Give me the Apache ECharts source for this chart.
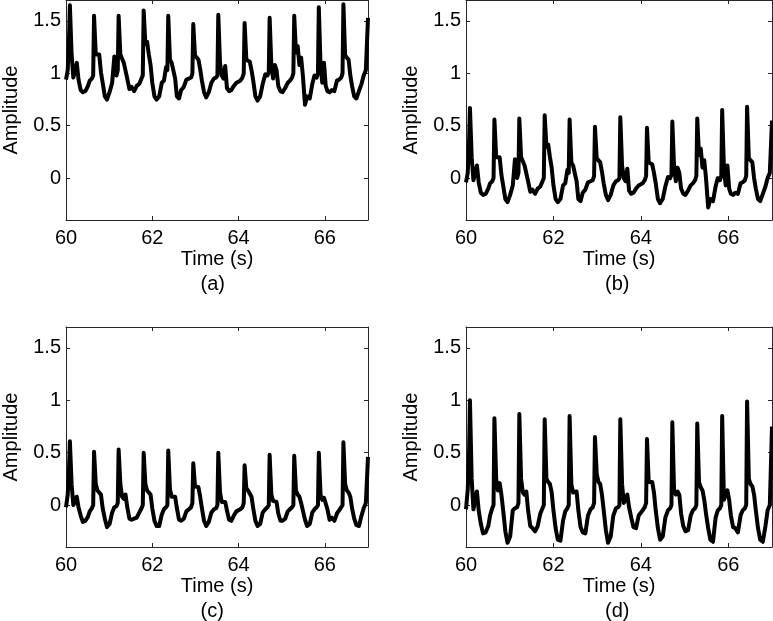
<!DOCTYPE html>
<html>
<head>
<meta charset="utf-8">
<script src="https://cdn.jsdelivr.net/npm/echarts@6/dist/echarts.min.js"></script>
<style>
html,body{margin:0;padding:0;background:#fff;}
#chart{width:773px;height:621px;}
</style>
</head>
<body>
<div id="chart"></div>
<script>
// Time samples (s)
const timeS = [
60.00,60.04,60.07,60.09,60.13,60.17,60.21,60.25,60.29,60.34,60.39,60.45,60.51,
60.55,60.60,60.63,60.65,60.69,60.73,60.77,60.81,60.85,60.90,60.95,61.01,61.07,
61.12,61.17,61.20,61.22,61.26,61.30,61.34,61.38,61.42,61.47,61.52,61.58,61.64,
61.70,61.75,61.78,61.80,61.84,61.88,61.92,61.96,62.00,62.05,62.10,62.16,62.22,
62.27,62.32,62.35,62.37,62.41,62.45,62.49,62.53,62.57,62.62,62.67,62.73,62.79,
62.85,62.90,62.93,62.95,62.99,63.03,63.07,63.11,63.15,63.20,63.25,63.31,63.37,
63.43,63.48,63.51,63.53,63.57,63.61,63.65,63.69,63.73,63.78,63.83,63.89,63.95,
64.04,64.09,64.12,64.14,64.18,64.22,64.26,64.30,64.34,64.39,64.44,64.50,64.56,
64.62,64.67,64.70,64.72,64.76,64.80,64.84,64.88,64.92,64.97,65.02,65.08,65.14,
65.19,65.24,65.27,65.29,65.33,65.37,65.41,65.45,65.49,65.54,65.59,65.65,65.71,
65.76,65.81,65.84,65.86,65.90,65.94,65.98,66.02,66.06,66.11,66.16,66.22,66.28,
66.33,66.38,66.41,66.43,66.47,66.51,66.55,66.59,66.63,66.68,66.73,66.79,66.85,
66.90,66.95,67.00
];
// Panel (a) amplitude
const ampA = [
0.94,1.03,1.33,1.65,1.18,0.96,1.03,1.10,0.94,0.84,0.82,0.83,0.88,
0.93,0.95,0.98,1.55,1.18,1.18,1.18,1.01,0.91,0.78,0.75,0.82,0.91,
1.16,0.98,1.03,1.55,1.18,1.14,1.10,1.11,0.95,0.85,0.87,0.83,0.88,
0.90,0.95,0.98,1.60,1.28,1.30,1.18,1.08,0.91,0.78,0.75,0.78,0.91,
0.93,1.06,1.03,1.55,1.13,1.10,1.09,0.95,0.78,0.76,0.84,0.87,0.94,
0.95,0.96,1.00,1.47,1.17,1.17,1.13,1.04,0.93,0.82,0.77,0.82,0.91,
0.95,0.96,0.98,1.56,1.10,0.98,0.95,1.07,0.86,0.83,0.84,0.88,0.91,
0.93,0.96,1.00,1.48,1.13,1.14,1.11,1.03,0.93,0.78,0.74,0.78,0.90,
0.99,0.98,1.01,1.53,1.08,0.95,1.08,1.03,0.88,0.83,0.82,0.86,0.91,
0.93,0.96,1.00,1.55,1.20,1.26,1.08,1.15,0.98,0.70,0.78,0.76,0.90,
0.98,0.96,1.00,1.63,1.08,0.91,1.10,0.88,0.83,0.82,0.84,0.83,0.93,
0.94,0.96,1.00,1.66,1.17,1.16,1.13,0.98,0.88,0.78,0.76,0.83,0.90,
0.98,1.03,1.53
];
// Panel (b) amplitude
const ampB = [
-0.04,0.05,0.35,0.67,0.20,-0.02,0.05,0.12,-0.04,-0.14,-0.16,-0.15,-0.10,
-0.05,-0.03,0.00,0.56,0.20,0.20,0.20,0.03,-0.07,-0.20,-0.23,-0.16,-0.07,
0.18,0.00,0.05,0.57,0.20,0.16,0.12,0.13,-0.03,-0.13,-0.11,-0.15,-0.10,
-0.08,-0.03,0.00,0.60,0.30,0.32,0.20,0.10,-0.07,-0.20,-0.23,-0.20,-0.07,
-0.05,0.08,0.05,0.56,0.15,0.12,0.11,-0.03,-0.20,-0.22,-0.14,-0.11,-0.04,
-0.03,-0.02,0.02,0.49,0.19,0.19,0.15,0.06,-0.05,-0.16,-0.21,-0.16,-0.07,
-0.03,-0.02,0.00,0.58,0.12,0.00,-0.03,0.09,-0.12,-0.15,-0.14,-0.10,-0.07,
-0.05,-0.02,0.02,0.48,0.15,0.16,0.13,0.05,-0.05,-0.20,-0.24,-0.20,-0.08,
0.01,0.00,0.03,0.54,0.10,-0.03,0.10,0.05,-0.10,-0.15,-0.16,-0.12,-0.07,
-0.05,-0.02,0.02,0.57,0.22,0.28,0.10,0.17,0.00,-0.28,-0.20,-0.22,-0.08,
0.00,-0.02,0.02,0.65,0.10,-0.07,0.12,-0.10,-0.15,-0.16,-0.14,-0.15,-0.05,
-0.04,-0.02,0.02,0.68,0.19,0.18,0.15,0.00,-0.10,-0.20,-0.22,-0.15,-0.08,
0.00,0.05,0.55
];
// Panel (c) amplitude
const ampC = [
-0.02,0.10,0.35,0.61,0.20,0.00,0.03,0.08,-0.02,-0.10,-0.16,-0.15,-0.11,
-0.06,-0.03,0.00,0.51,0.20,0.14,0.14,0.10,-0.03,-0.13,-0.21,-0.18,-0.07,
-0.02,-0.01,0.02,0.53,0.20,0.08,0.06,0.10,-0.02,-0.13,-0.14,-0.13,-0.12,
-0.07,-0.03,0.00,0.50,0.20,0.14,0.13,0.10,-0.03,-0.15,-0.20,-0.20,-0.09,
-0.04,-0.02,0.00,0.52,0.15,0.08,0.07,0.08,-0.03,-0.14,-0.15,-0.13,-0.06,
-0.04,-0.02,0.02,0.40,0.18,0.17,0.17,0.08,-0.03,-0.15,-0.20,-0.16,-0.07,
-0.04,-0.03,0.00,0.50,0.12,0.03,0.04,0.03,-0.05,-0.14,-0.15,-0.10,-0.06,
-0.04,-0.02,0.02,0.38,0.16,0.14,0.14,0.08,-0.03,-0.15,-0.20,-0.18,-0.07,
-0.04,-0.02,0.00,0.48,0.10,0.04,0.05,0.03,-0.08,-0.15,-0.15,-0.13,-0.06,
-0.04,-0.02,0.00,0.47,0.14,0.10,0.08,0.02,-0.05,-0.14,-0.20,-0.18,-0.07,
-0.04,-0.02,0.00,0.50,0.10,0.05,0.07,0.08,-0.04,-0.14,-0.12,-0.15,-0.08,
-0.05,-0.02,0.00,0.60,0.20,0.14,0.12,0.08,-0.03,-0.13,-0.19,-0.20,-0.10,
-0.03,0.02,0.46
];
// Panel (d) amplitude
const ampD = [
-0.04,0.15,0.50,1.00,0.25,-0.04,0.05,0.13,-0.05,-0.18,-0.27,-0.26,-0.20,
-0.10,-0.03,0.00,0.83,0.25,0.14,0.21,0.10,-0.05,-0.25,-0.36,-0.30,-0.05,
-0.03,-0.02,0.02,0.87,0.25,0.12,0.10,0.13,-0.05,-0.20,-0.22,-0.25,-0.20,
-0.08,-0.03,0.00,0.82,0.25,0.22,0.20,0.12,-0.05,-0.22,-0.33,-0.34,-0.15,
-0.06,-0.03,0.00,0.85,0.20,0.12,0.12,0.13,-0.05,-0.21,-0.26,-0.27,-0.10,
-0.04,-0.02,0.02,0.65,0.30,0.22,0.20,0.10,-0.05,-0.24,-0.36,-0.30,-0.10,
-0.03,-0.02,0.00,0.82,0.20,0.02,0.06,0.10,-0.02,-0.12,-0.21,-0.22,-0.10,
-0.05,-0.02,0.02,0.63,0.22,0.22,0.22,0.12,-0.05,-0.22,-0.33,-0.30,-0.12,
-0.05,-0.03,0.00,0.79,0.13,0.10,0.13,0.10,-0.08,-0.20,-0.25,-0.24,-0.10,
-0.05,-0.03,0.00,0.78,0.22,0.17,0.14,0.05,-0.08,-0.22,-0.33,-0.35,-0.12,
-0.05,-0.03,0.00,0.85,0.05,0.10,0.14,0.05,-0.10,-0.21,-0.22,-0.26,-0.10,
-0.05,-0.03,0.00,0.99,0.25,0.20,0.18,0.10,-0.05,-0.22,-0.33,-0.35,-0.20,
-0.05,0.00,0.75
];
const captions = ['(a)','(b)','(c)','(d)'];
const xTicks = [60, 62, 64, 66];
const yTicks = [0, 0.5, 1, 1.5];

const FONT = 'Liberation Sans, Arial, sans-serif';
const grids = [
  {left: 61, top: 0, width: 307, height: 220},
  {left: 466, top: 0, width: 306, height: 220},
  {left: 61, top: 327, width: 307, height: 220},
  {left: 466, top: 327, width: 306, height: 220}
];
const seriesVals = [ampA, ampB, ampC, ampD];
const lineCol = '#262626';
const xAxes = [], yAxes = [], series = [], graphics = [];
grids.forEach((g, i) => {
  const common = {
    type: 'value', gridIndex: i,
    axisLine: {show: true, onZero: false, lineStyle: {color: lineCol, width: 1}},
    axisTick: {show: true, inside: true, length: 4, lineStyle: {color: lineCol}},
    splitLine: {show: false}
  };
  xAxes.push(Object.assign({}, common, {
    position: 'bottom', min: 60, max: 67, interval: 2,
    name: 'Time (s)', nameLocation: 'middle', nameGap: 29,
    nameTextStyle: {fontFamily: FONT, fontSize: 20, color: '#000'},
    axisLabel: {show: true, margin: 8, fontFamily: FONT, fontSize: 20, color: '#000',
      showMaxLabel: false,
      formatter: v => xTicks.indexOf(v) >= 0 ? String(v) : ''}
  }));
  xAxes.push(Object.assign({}, common, {
    position: 'top', min: 60, max: 67, interval: 2, axisLabel: {show: false}
  }));
  yAxes.push(Object.assign({}, common, {
    position: 'left', min: -0.4, max: 1.7,
    name: 'Amplitude', nameLocation: 'middle', nameGap: 45,
    nameTextStyle: {fontFamily: FONT, fontSize: 20, color: '#000'},
    axisLabel: {show: true, margin: 5, fontFamily: FONT, fontSize: 20, color: '#000',
      showMinLabel: false, showMaxLabel: false,
      formatter: v => yTicks.indexOf(Math.round(v*100)/100) >= 0 ? String(Math.round(v*100)/100) : ''}
  }));
  yAxes.push(Object.assign({}, common, {
    position: 'right', min: -0.4, max: 1.7, axisLabel: {show: false}
  }));
  series.push({
    type: 'line', xAxisIndex: 2*i, yAxisIndex: 2*i,
    data: timeS.map((t, k) => [t, seriesVals[i][k]]),
    showSymbol: false, symbol: 'none',
    lineStyle: {color: '#000', width: 4, join: 'round'},
    clip: true
  });
  graphics.push({
    type: 'text', left: g.left + g.width/2 - 14, top: g.top + 274,
    style: {text: captions[i], fontFamily: FONT, fontSize: 20, fill: '#000'}
  });
});

const chart = echarts.init(document.getElementById('chart'), null, {renderer: 'canvas'});
chart.setOption({
  animation: false,
  backgroundColor: '#fff',
  grid: grids,
  xAxis: xAxes,
  yAxis: yAxes,
  series: series,
  graphic: graphics
});
</script>
</body>
</html>
